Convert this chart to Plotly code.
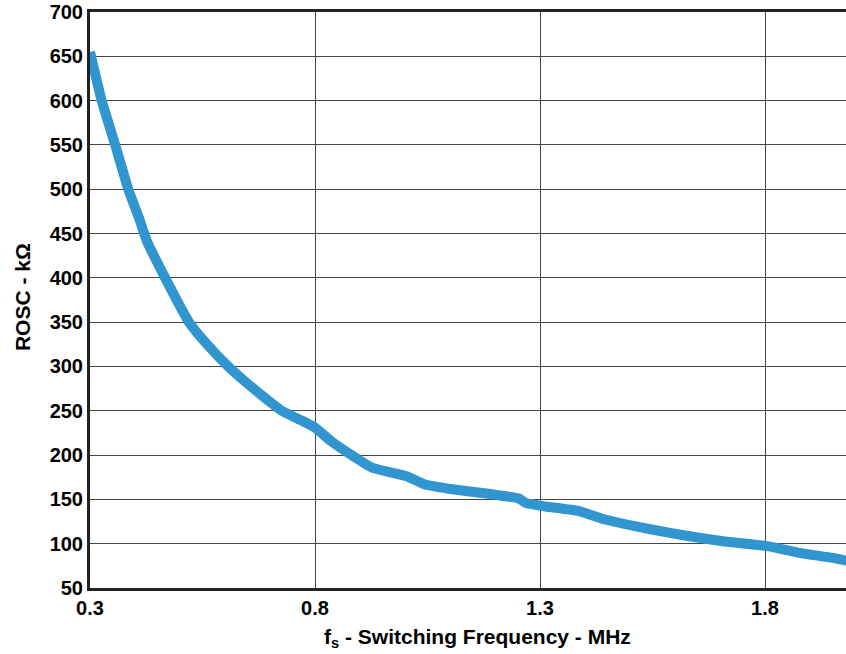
import plotly.graph_objects as go

# switching frequency (MHz) and oscillator resistor (kOhm)
freq_mhz = [0.30, 0.326, 0.356, 0.385, 0.41, 0.426, 0.467, 0.52, 0.56, 0.607, 0.64,
            0.70, 0.726, 0.766, 0.80, 0.835, 0.872, 0.926, 0.972, 1.004, 1.043,
            1.097, 1.19, 1.253, 1.268, 1.312, 1.385, 1.447, 1.548, 1.625, 1.703,
            1.808, 1.873, 1.95, 1.99]
rosc_kohm = [655, 600, 550, 500, 466, 442, 400, 350, 325, 300, 285,
             260, 250, 240, 231, 216, 203, 186, 180, 176, 167,
             162, 156, 151, 146, 142, 137, 127, 116, 109, 103,
             97, 90, 84, 80]

x_ticks = [0.3, 0.8, 1.3, 1.8]
y_ticks = list(range(50, 701, 50))

font_main = "Liberation Sans, Arial, sans-serif"

curve = go.Scatter(x=freq_mhz,
                   y=rosc_kohm,
                   mode='lines',
                   line=dict(color='#3196CF', width=10, shape='spline', smoothing=0.4),
                   hoverinfo='x+y',
                   showlegend=False
                   )

fig = go.Figure(data=[curve])

fig.update_layout(width=846, height=654,
                  margin=dict(l=90, r=0, t=12, b=66),
                  paper_bgcolor='white',
                  plot_bgcolor='white',
                  font=dict(family=font_main, size=20, color='black'),
                  )

fig.update_xaxes(range=[0.3, 1.98],
                 tickvals=x_ticks,
                 ticktext=['<b>%s</b>' % v for v in x_ticks],
                 showgrid=True, gridcolor='#444444', gridwidth=1,
                 zeroline=False,
                 showline=True, linecolor='#222222', linewidth=3, mirror=True,
                 ticks='',
                 automargin=False,
                 )

fig.update_yaxes(range=[50, 700],
                 tickvals=y_ticks,
                 ticktext=['<b>%d</b>' % v for v in y_ticks],
                 showgrid=True, gridcolor='#444444', gridwidth=1,
                 zeroline=False,
                 showline=True, linecolor='#222222', linewidth=3,
                 ticks='',
                 automargin=False,
                 )

# axis titles placed as annotations so the plot area stays fixed
fig.add_annotation(text='<b>f<sub>s</sub> - Switching Frequency - MHz</b>',
                   xref='paper', yref='paper', x=0.513, y=-0.06,
                   xanchor='center', yanchor='top',
                   showarrow=False, font=dict(size=21))
fig.add_annotation(text='<b>ROSC - k\u03a9</b>',
                   xref='paper', yref='paper', x=-0.09, y=0.505,
                   xanchor='center', yanchor='middle', textangle=-90,
                   showarrow=False, font=dict(size=21))

# drop the default body margin so the figure sits at the window's corner
fig.write_html("out.html",
               config={'displayModeBar': False},
               post_script="document.body.style.margin='0';document.body.style.overflow='hidden';")
